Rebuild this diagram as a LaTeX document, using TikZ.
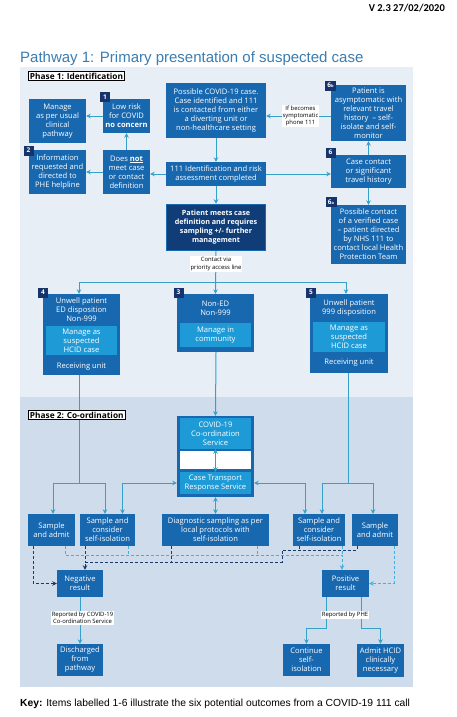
\documentclass[tikz,border=0pt]{standalone}
\usepackage{fontspec}
\setmainfont{Open Sans}
\newfontfamily\arialf{Liberation Sans}
\newfontfamily\calibf{Carlito}
\usetikzlibrary{arrows.meta}
\definecolor{bblue}{HTML}{1868B0}
\definecolor{lblue}{HTML}{1E9BD7}
\definecolor{navy}{HTML}{103D78}
\definecolor{badgec}{HTML}{17336B}
\definecolor{acol}{HTML}{35A0C8}
\definecolor{dcol}{HTML}{1B3A6B}
\definecolor{ccol}{HTML}{45AEDA}
\definecolor{bgone}{HTML}{E8EEF6}
\definecolor{bgtwo}{HTML}{CFDCEC}
\definecolor{ttl}{HTML}{3A7DB2}
\tikzset{
 box/.style={fill=bblue, text=white, align=center, inner sep=0pt, font=\fontsize{7.6}{9}\selectfont},
 ibox/.style={fill=lblue, text=white, align=center, inner sep=0pt, font=\fontsize{7.6}{9}\selectfont},
 txt/.style={text=white, align=center, inner sep=0pt, font=\fontsize{7.6}{9}\selectfont},
 badgebox/.style={fill=badgec, text=white, inner sep=0pt, minimum width=10pt, minimum height=10pt, font=\bfseries\fontsize{6.5}{7}\selectfont},
 lbl/.style={fill=white, text=black, align=center, inner sep=1pt, font=\fontsize{5.9}{7.3}\selectfont},
 phase/.style={fill=white, draw=black, line width=0.9pt, inner sep=1.5pt, font=\bfseries\fontsize{8.3}{9}\selectfont},
 arr/.style={draw=acol, line width=1pt, -{Stealth[length=4.5pt,width=4.5pt]}},
 darr/.style={draw=acol, line width=1pt, {Stealth[length=4.5pt,width=4.5pt]}-{Stealth[length=4.5pt,width=4.5pt]}},
 plain/.style={draw=acol, line width=1pt},
 ndash/.style={draw=dcol, line width=1pt, dash pattern=on 3pt off 2pt},
 pdash/.style={draw=ccol, line width=1pt, dash pattern=on 3pt off 2pt},
 tip/.style={-{Stealth[length=4.5pt,width=4.5pt]}},
}
\begin{document}
\begin{tikzpicture}[x=1pt,y=-1pt]
\useasboundingbox (0,0) rectangle (456,717);
\fill[white] (0,0) rectangle (456,717);
\fill[bgone] (20,67) rectangle (413,397);
\fill[bgtwo] (20,397) rectangle (413,687);

\node[anchor=east, inner sep=0, font=\calibf\bfseries\fontsize{10.5}{12}\selectfont] (ver) at (445,8) {V 2.3 27/02/2020};
\node[anchor=base west, inner sep=0, text=ttl, font=\arialf\fontsize{15}{17}\selectfont] (title) at (20,63) {Pathway 1: Primary presentation of suspected case};
\node[anchor=base west, inner sep=0, font=\arialf\fontsize{10.3}{12}\selectfont] (key) at (20,706) {\textbf{Key:} Items labelled 1-6 illustrate the six potential outcomes from a COVID-19 111 call};

% Phase 1 boxes
\node[box, minimum width=57pt, minimum height=44pt] (manage) at (57.5,121) {Manage\\as per usual\\clinical\\pathway};
\node[box, minimum width=47pt, minimum height=34pt] (lowrisk) at (126.5,116) {Low risk\\for COVID\\\textbf{no concern}};
\node[box, minimum width=57pt, minimum height=44pt] (info) at (57.5,172) {Information\\requested and\\directed to\\PHE helpline};
\node[box, minimum width=47pt, minimum height=44pt] (doesnot) at (126.5,172) {Does \textbf{\underline{not}}\\meet case\\or contact\\definition};
\node[box, minimum width=100pt, minimum height=55pt] (possible) at (216,110.5) {Possible COVID-19 case.\\Case identified and 111\\is contacted from either\\a diverting unit or\\non-healthcare setting};
\node[box, minimum width=100pt, minimum height=24pt] (ident) at (216,174) {111 Identification and risk\\assessment completed};
\node[box, fill=navy, draw=bblue, line width=1.5pt, font=\bfseries\fontsize{7.2}{9}\selectfont, minimum width=99pt, minimum height=46pt] (meets) at (216,227.5) {Patient meets case\\definition and requires\\sampling +/- further\\management};
\node[box, minimum width=75pt, minimum height=56pt] (b6b) at (368.5,113) {Patient is\\asymptomatic with\\relevant travel\\history~ -- self-\\isolate and self-\\monitor};
\node[box, minimum width=75pt, minimum height=33pt] (b6) at (368.5,171.5) {Case contact\\or significant\\travel history};
\node[box, minimum width=75pt, minimum height=59pt] (b6a) at (368.5,234.5) {Possible contact\\of a verified case\\-- patient directed\\by NHS 111 to\\contact local Health\\Protection Team};

\node[badgebox] (n1) at (105,97) {1};
\node[badgebox] (n2) at (28.5,150.5) {2};
\node[badgebox, minimum width=11pt] (n6b) at (330.5,85.5) {6{\fontsize{4}{4}\selectfont b}};
\node[badgebox] (n6) at (330.5,152.5) {6};
\node[badgebox, minimum width=11pt] (n6a) at (331,202) {6{\fontsize{4}{4}\selectfont a}};

% Phase 1 connectors
\draw[arr] (lowrisk.west) -- (manage.east |- lowrisk.west);
\draw[arr] (doesnot.north) -- (lowrisk.south);
\draw[arr] (doesnot.west) -- (info.east);
\draw[arr] (ident.west) -- (doesnot.east |- ident.west);
\draw[arr] (possible.south) -- (ident.north);
\draw[arr] (ident.south) -- (meets.north);
\draw[arr] (ident.east) -- (b6.west |- ident.east);
\draw[arr] (b6.north) -- (b6b.south);
\draw[arr] (b6.south) -- (b6a.north);
\coordinate (symc) at (300.5,116);
\draw[arr] (b6b.west |- symc) -- (possible.east |- symc);
\node[lbl] (sym) at (symc) {If becomes\\symptomatic\\phone 111};

% Level 3 boxes
\node[box, minimum width=77pt, minimum height=81pt] (b4) at (81.5,334.5) {};
\node[ibox, minimum width=71pt, minimum height=29pt] (b4i) at (81.5,340.5) {Manage as\\suspected\\HCID case};
\node[txt] (b4t) at (81.5,310) {Unwell patient\\ED disposition\\Non-999};
\node[txt] (b4r) at (81.5,367) {Receiving unit};
\node[box, minimum width=77pt, minimum height=58pt] (b3) at (215.5,323) {};
\node[ibox, minimum width=71pt, minimum height=24pt] (b3i) at (215.5,335) {Manage in\\community};
\node[txt] (b3t) at (215.5,308) {Non-ED\\Non-999};
\node[box, minimum width=78pt, minimum height=79pt] (b5) at (349,333.5) {};
\node[ibox, minimum width=72pt, minimum height=30pt] (b5i) at (349,337) {Manage as\\suspected\\HCID case};
\node[txt] (b5t) at (349,308.5) {Unwell patient\\999 disposition};
\node[txt] (b5r) at (349,363) {Receiving unit};
\node[badgebox] (n4) at (43,292.5) {4};
\node[badgebox] (n3) at (178.5,292.5) {3};
\node[badgebox] (n5) at (311,292.5) {5};

\coordinate (bus) at (216,282);
\draw[arr] (meets.south) -- (b3.north);
\draw[arr] (bus) -| ([xshift=-2.5pt]b4.north);
\draw[arr] (bus) -| ([xshift=-3pt]b5.north);
\node[lbl] (contact) at (216,264) {Contact via\\priority access line};

% Phase 2 boxes
\node[fill=bblue, minimum width=77pt, minimum height=81pt, inner sep=0pt] (coordbox) at (215.5,456.5) {};
\node[fill=white, minimum width=71pt, minimum height=18pt, inner sep=0pt] (gap) at (215.5,460) {};
\node[ibox, minimum width=71pt, minimum height=31pt] (covid) at (215.5,433.5) {COVID-19\\Co-ordination\\Service};
\node[ibox, minimum width=71pt, minimum height=22pt] (ctrs) at (215.5,483) {Case Transport\\Response Service};
\draw[darr] (covid.south) -- (ctrs.north);

\node[box, minimum width=107pt, minimum height=32pt] (diag) at (215.5,530) {Diagnostic sampling as per\\local protocols with\\self-isolation};
\node[box, minimum width=47pt, minimum height=32pt] (Ladmit) at (51.5,530) {Sample\\and admit};
\node[box, minimum width=55pt, minimum height=32pt] (Lcons) at (107.5,530) {Sample and\\consider\\self-isolation};
\node[box, minimum width=52pt, minimum height=32pt] (Rcons) at (319,530) {Sample and\\consider\\self-isolation};
\node[box, minimum width=46pt, minimum height=32pt] (Radmit) at (375,530) {Sample\\and admit};
\node[box, minimum width=46pt, minimum height=27pt] (neg) at (80,583.5) {Negative\\result};
\node[box, minimum width=47pt, minimum height=27pt] (pos) at (345.5,583.5) {Positive\\result};
\node[box, minimum width=46pt, minimum height=32pt] (disch) at (80,660) {Discharged\\from\\pathway};
\node[box, minimum width=47pt, minimum height=32pt] (cont) at (306.5,660) {Continue\\self-\\isolation};
\node[box, minimum width=47pt, minimum height=33pt] (admitH) at (380.5,660.5) {Admit HCID\\clinically\\necessary};

% Phase 2 connectors
\coordinate (lbus) at (79,483);
\coordinate (rbus) at (348,483);
\draw[plain] ([xshift=-2.5pt]b4.south) -- (lbus);
\draw[arr] (lbus) -| ([xshift=1.5pt]Ladmit.north);
\draw[arr] (lbus) -| ([xshift=-2.5pt]Lcons.north);
\draw[plain] ([xshift=-1pt]b5.south) -- (rbus);
\draw[arr] (rbus) -| ([xshift=3pt]Rcons.north);
\draw[arr] (rbus) -| ([xshift=-2pt]Radmit.north);
\draw[darr] ([xshift=15pt]Lcons.north) |- (coordbox.west |- ctrs.west);
\draw[darr] (coordbox.east |- ctrs.east) -| ([xshift=-14pt]Rcons.north);
\draw[arr] ([xshift=0.5pt]b3.south) -- (coordbox.north);
\draw[darr] (coordbox.south) -- (diag.north);

% outcomes (dashed)
\coordinate (nk1) at (282,550);
\coordinate (nk2) at (85,562);
\coordinate (pk) at (342,555);
\draw[pdash,tip] ([xshift=13.5pt]Ladmit.south) |- (pk) -- (pk |- pos.north);
\draw[pdash] ([xshift=20.5pt]Lcons.south) -- ([xshift=20.5pt]Lcons.south |- pk);
\draw[pdash] ([xshift=41.5pt]diag.south) -- ([xshift=41.5pt]diag.south |- pk);
\draw[pdash] ([xshift=23pt]Rcons.south) -- ([xshift=23pt]Rcons.south |- pk);
\draw[pdash,tip] ([xshift=19pt]Radmit.south) |- (pos.east);
\draw[ndash,tip] ([xshift=-18.5pt]Ladmit.south) |- (neg.west);
\draw[ndash,tip] ([xshift=-18pt]Radmit.south) |- (nk1) |- (nk2) -- (nk2 |- neg.north);
\draw[ndash] ([xshift=-20pt]Rcons.south) -- ([xshift=-20pt]Rcons.south |- nk1);
\draw[ndash] ([xshift=-44.5pt]diag.south) -- ([xshift=-44.5pt]diag.south |- nk2);
\draw[ndash] (Lcons.south -| nk2) -- (nk2);

% final outcomes
\draw[arr] (neg.south) -- (disch.north);
\node[lbl] (repc) at (82.5,618) {Reported by COVID-19\\Co-ordination Service};
\draw[arr] ([xshift=-19.5pt]pos.south) -- ++(0,31) -| (cont.north);
\draw[arr] ([xshift=15.5pt]pos.south) -- ++(0,31) -| (admitH.north);
\node[lbl] (repp) at (345,615) {Reported by PHE};

% phase labels on top
\node[phase, anchor=north west] (ph1) at (28,71) {Phase 1: Identification};
\node[phase, anchor=north west] (ph2) at (28,410) {Phase 2: Co-ordination};
\end{tikzpicture}
\end{document}
